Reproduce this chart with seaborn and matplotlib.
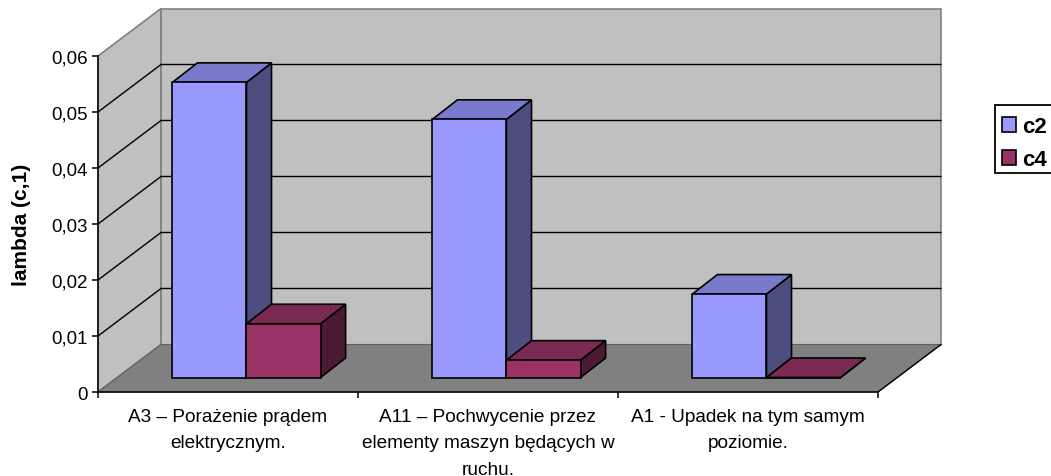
import matplotlib
matplotlib.use("Agg")
import matplotlib.pyplot as plt
from matplotlib.patches import Polygon, Rectangle
from matplotlib.transforms import Affine2D
import pandas as pd
import seaborn as sns

categories = ["A3 – Porażenie prądem\nelektrycznym.",
              "A11 – Pochwycenie przez\nelementy maszyn będących w\nruchu.",
              "A1 - Upadek na tym samym\npoziomie."]
series_names = ["c2", "c4"]
c2_values = [0.0527, 0.0461, 0.0149]
c4_values = [0.0096, 0.0031, 0.0]
y_ticks = [0, 0.01, 0.02, 0.03, 0.04, 0.05, 0.06]
y_tick_labels = ["0", "0,01", "0,02", "0,03", "0,04", "0,05", "0,06"]
y_title = "lambda (c,1)"
face_colors = ["#9999FF", "#993366"]
side_colors = ["#4D4D80", "#4D1A33"]
top_colors = ["#7A7ACC", "#7A2952"]

W, H = 1051, 477
LEFT, RIGHT, BOTTOM, TOP = 98, 878, 393, 57
sns.set_theme(style="white")
plt.rcParams["font.family"] = ["Liberation Sans", "DejaVu Sans"]
fig = plt.figure(figsize=(W / 100, H / 100), dpi=100, facecolor="white")
ax = fig.add_axes([LEFT / W, 1 - BOTTOM / H, (RIGHT - LEFT) / W, (BOTTOM - TOP) / H])

df = pd.DataFrame({
    "category": categories * 2,
    "series": [series_names[0]] * 3 + [series_names[1]] * 3,
    "value": c2_values + c4_values,
})
sns.barplot(data=df, x="category", y="value", hue="series", order=categories,
            hue_order=series_names, palette=face_colors, saturation=1,
            width=0.57, gap=0, edgecolor="black", linewidth=1.2, ax=ax, errorbar=None)

x0, x1 = -0.5, 2.5
y0, y1 = 0, 0.06
ax.set_xlim(x0, x1)
ax.set_ylim(y0, y1)
# pixel -> data scale of the oblique projection
sx = (RIGHT - LEFT) / (x1 - x0)
sy = (BOTTOM - TOP) / (y1 - y0)
wx, wy = 63 / sx, 47.5 / sy    # wall depth
ox, oy = 18.5 / sx, 14.5 / sy  # bar offset on the floor
bx, by = 25 / sx, 19.5 / sy    # bar depth

def poly(pts, fc, ec, lw, z):
    ax.add_patch(Polygon(pts, closed=True, facecolor=fc, edgecolor=ec, linewidth=lw,
                         zorder=z, clip_on=False, joinstyle="miter"))

# walls and floor
poly([(x0, y0), (x0 + wx, y0 + wy), (x0 + wx, y1 + wy), (x0, y1)], "#C0C0C0", "#808080", 1.2, 0.5)
poly([(x0 + wx, y0 + wy), (x1 + wx, y0 + wy), (x1 + wx, y1 + wy), (x0 + wx, y1 + wy)], "#C0C0C0", "#808080", 1.2, 0.5)
poly([(x0, y0), (x1, y0), (x1 + wx, y0 + wy), (x0 + wx, y0 + wy)], "#808080", "#606060", 0.8, 0.6)
ax.plot([x1, x1 + wx], [y0, y0 + wy], color="black", lw=1.0, zorder=0.7, clip_on=False)
for t in y_ticks[1:-1]:
    ax.plot([x0, x0 + wx, x1 + wx], [t, t + wy, t + wy], color="black", lw=1.0, zorder=0.8, clip_on=False)

# bars: seaborn's front faces, moved onto the floor, plus side and top
bars = sorted([p for p in ax.patches if isinstance(p, matplotlib.patches.Rectangle)], key=lambda p: p.get_x())
for i, p in enumerate(bars):
    idx = i % 2
    z = 2 + i
    p.set_transform(Affine2D().translate(ox, oy) + ax.transData)
    p.set_clip_on(False)
    p.set_zorder(z + 0.5)
    l, w, h = p.get_x() + ox, p.get_width(), p.get_height() + oy
    r = l + w
    poly([(r, oy), (r + bx, oy + by), (r + bx, h + by), (r, h)], side_colors[idx], "black", 1.2, z)
    poly([(l, h), (r, h), (r + bx, h + by), (l + bx, h + by)], top_colors[idx], "black", 1.2, z + 0.2)

# axes
for s in ("top", "right"):
    ax.spines[s].set_visible(False)
for s in ("left", "bottom"):
    ax.spines[s].set_color("black")
    ax.spines[s].set_linewidth(1.1)
    ax.spines[s].set_zorder(30)
ax.set_yticks(y_ticks, y_tick_labels)
ax.set_xticks(range(3), categories)
ax.set_xticks([-0.5, 0.5, 1.5, 2.5], minor=True)
ax.tick_params(axis="y", left=True, length=4.3, width=1.1, color="black", labelsize=13.4, pad=3.2, labelcolor="black")
ax.tick_params(axis="x", which="major", bottom=False, length=0, labelsize=13.7, pad=11.5, labelcolor="black")
ax.tick_params(axis="x", which="minor", bottom=True, length=4, width=1.1, color="black")
for t in ax.get_xticklabels():
    t.set_linespacing(1.72)
ax.set_xlabel("")
ax.set_ylabel("")
fig.text(22 / W, 1 - 224.5 / H, y_title, rotation=90, ha="center", va="center",
         fontsize=15, fontweight="bold", color="black")

# legend frame sits a little above the centred rows, as in the reference
fig.add_artist(Rectangle((995 / W, 1 - 174 / H), 60 / W, 68 / H, transform=fig.transFigure,
                         facecolor="white", edgecolor="black", linewidth=1.3, zorder=-1))
sns.move_legend(ax, "upper left", bbox_to_anchor=(995 / W, 1 - 110 / H), bbox_transform=fig.transFigure,
                title=None, frameon=False,
                borderaxespad=0, borderpad=0.32, handlelength=0.64, handleheight=0.64, handletextpad=0.27,
                labelspacing=0.55, prop={"weight": "bold", "size": 16})
leg = ax.get_legend()
leg.set_zorder(40)
for t in leg.get_texts():
    t.set_color("black")

fig.savefig("out.png", dpi=100)
